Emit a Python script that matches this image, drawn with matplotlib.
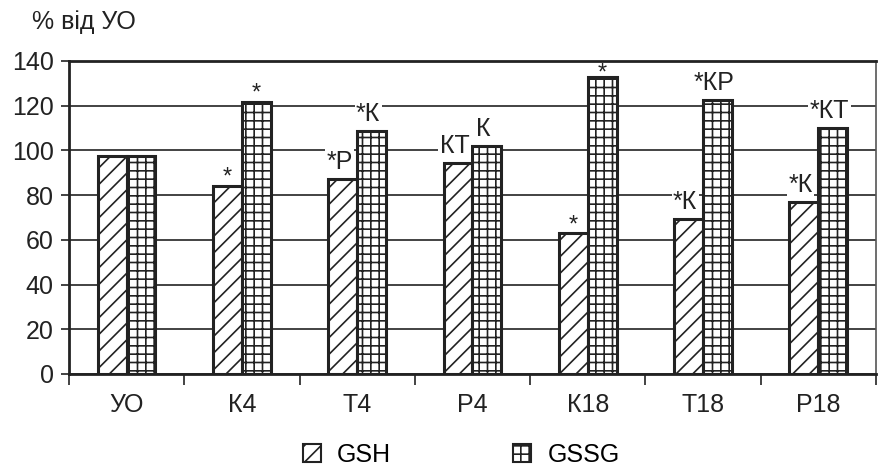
import numpy as np
import matplotlib
matplotlib.use("Agg")
import matplotlib.pyplot as plt
from matplotlib.patches import Patch

# data
groups = ["УО", "К4", "Т4", "Р4", "К18", "Т18", "Р18"]
gsh = [97.5, 84.0, 87.4, 94.5, 62.9, 69.3, 76.8]
gssg = [97.5, 121.6, 108.7, 102.0, 133.0, 122.6, 109.9]
gsh_marks = ["", "*", "*Р", "КТ", "*", "*К", "*К"]
gssg_marks = ["", "*", "*К", "К", "*", "*КР", "*КТ"]
y_ticks = [0, 20, 40, 60, 80, 100, 120, 140]

plt.rcParams["font.family"] = ["Liberation Sans", "DejaVu Sans"]
plt.rcParams["hatch.linewidth"] = 1.2
plt.rcParams["hatch.color"] = "#222222"

fig = plt.figure(figsize=(8.8, 4.68), dpi=100)
ax = fig.add_axes([0.0784, 0.2009, 0.917, 0.6688])

x = np.arange(len(groups))
w = 0.25
ax.bar(x - w / 2, gsh, w, facecolor="white", edgecolor="#222222",
       linewidth=2.2, hatch="//", zorder=3)
ax.bar(x + w / 2, gssg, w, facecolor="white", edgecolor="#222222",
       linewidth=2.2, hatch="++", zorder=3)


def put_mark(xi, v, m):
    # a lone asterisk sits high in the line, so drop it closer to the bar
    # and keep it under the top frame
    if m == "*":
        ax.text(xi, min(v + 1, 131.5), m, ha="center", va="baseline",
                fontsize=17, color="#222222", zorder=4)
    else:
        ax.text(xi - 0.03, v + 4.5, m, ha="center", va="baseline", fontsize=18,
                color="#222222", zorder=4,
                bbox=dict(facecolor="white", edgecolor="none", pad=1))


for xi, v, m in zip(x - w / 2, gsh, gsh_marks):
    if m:
        put_mark(xi, v, m)
for xi, v, m in zip(x + w / 2, gssg, gssg_marks):
    if m:
        put_mark(xi, v, m)

ax.set_xlim(-0.5, len(groups) - 0.5)
ax.set_ylim(0, 140)
ax.set_yticks(y_ticks)
ax.yaxis.grid(True, color="#222222", linewidth=1.2, zorder=0)
ax.set_axisbelow(True)
ax.tick_params(axis="y", labelsize=18, length=6, width=1.2, pad=5,
               colors="#222222")

ax.set_xticks(x)
ax.set_xticklabels(groups)
ax.set_xticks(np.arange(-0.5, len(groups)), minor=True)
ax.tick_params(axis="x", which="major", length=0, labelsize=18, pad=14,
               colors="#222222")
ax.tick_params(axis="x", which="minor", length=8, width=1.2,
               colors="#222222")

for s in ["left", "bottom", "top"]:
    ax.spines[s].set_linewidth(2)
    ax.spines[s].set_color("#222222")
ax.spines["right"].set_linewidth(1.2)
ax.spines["right"].set_color("#555555")

fig.text(0.036, 0.953, "% від УО", fontsize=18, color="#222222",
         ha="left", va="center")

handles = [Patch(facecolor="white", edgecolor="#222222", hatch="//", linewidth=1.5),
           Patch(facecolor="white", edgecolor="#222222", hatch="++", linewidth=1.5)]
fig.legend(handles, ["GSH", "GSSG"], loc="center", bbox_to_anchor=(0.524, 0.028),
           ncol=2, frameon=False, fontsize=18, handlelength=0.72,
           handleheight=0.72, columnspacing=4.9, handletextpad=0.64,
           borderpad=0, borderaxespad=0)

fig.savefig("out.png", dpi=100)
